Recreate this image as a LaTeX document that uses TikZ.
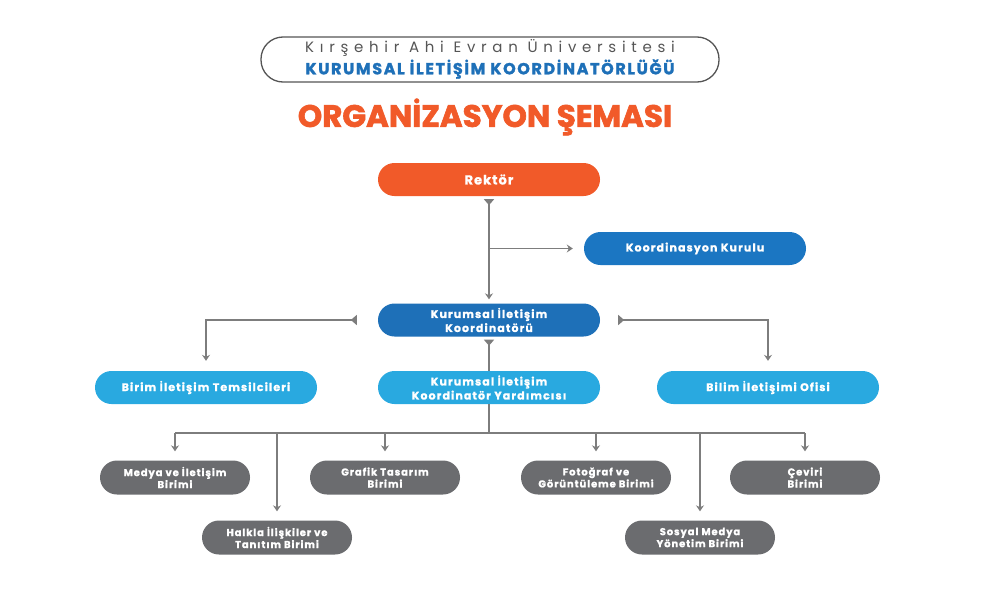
\documentclass[tikz,border=0pt]{standalone}
\usepackage{fontspec}
\setmainfont{Poppins}
\usetikzlibrary{arrows.meta,calc}
\definecolor{orgorange}{HTML}{F15A29}
\definecolor{darkblue}{HTML}{1E70B8}
\definecolor{midblue}{HTML}{1B76C2}
\definecolor{lightblue}{HTML}{29A9E0}
\definecolor{unitgray}{HTML}{6B6C6F}
\definecolor{linegray}{HTML}{7D7D7D}
\definecolor{headgray}{HTML}{555555}
\newcommand{\pillfont}{\bfseries\fontsize{11}{14}\selectfont\addfontfeatures{LetterSpace=10,FakeBold=1}}
\newcommand{\unitfont}{\bfseries\fontsize{10}{12}\selectfont\addfontfeatures{LetterSpace=9,FakeBold=1}}
\tikzset{
  pill/.style={rectangle, rounded corners=16.5pt, minimum width=222pt, minimum height=33pt,
    text=white, font=\pillfont, align=center, inner sep=0pt},
  smallpill/.style={rectangle, rounded corners=17pt, minimum width=150pt, minimum height=34pt,
    fill=unitgray, text=white, font=\unitfont, align=center, inner sep=0pt},
  conn/.style={draw=linegray, line width=1.3pt},
  endtip/.style={-{Stealth[length=6pt,width=8pt,inset=2pt]}},
  starttip/.style={{Triangle[reversed,length=6pt,width=10pt]}-},
  bothtip/.style={{Triangle[reversed,length=6pt,width=10pt]}-{Stealth[length=6pt,width=8pt,inset=2pt]}}
}
\begin{document}
\begin{tikzpicture}[x=1pt,y=-1pt]
\useasboundingbox (0,0) rectangle (1000,605);
\fill[white] (0,0) rectangle (1000,605);

% header
\node[draw=headgray, line width=1.3pt, rounded corners=22pt, minimum width=458pt, minimum height=45pt] (hdr) at (490,59.5) {};
\node[text=headgray, font=\fontsize{15}{17}\selectfont\addfontfeatures{LetterSpace=38}] (uni) at (490,48) {Kırşehir Ahi Evran Üniversitesi};
\node[text=darkblue, font=\bfseries\fontsize{16}{18}\selectfont\addfontfeatures{LetterSpace=10,FakeBold=1.5}] (kik) at (490,69) {KURUMSAL İLETİŞİM KOORDİNATÖRLÜĞÜ};
\node[text=orgorange, font=\bfseries\fontsize{31}{34}\selectfont\addfontfeatures{FakeBold=2}] (title) at (485,117) {ORGANİZASYON ŞEMASI};

% main nodes
\node[pill, fill=orgorange, font=\bfseries\fontsize{13}{15}\selectfont\addfontfeatures{LetterSpace=8,FakeBold=1}] (rek) at (489,179.5) {Rektör};
\node[pill, fill=midblue] (kk) at (695,248.5) {Koordinasyon Kurulu};
\node[pill, fill=darkblue] (kic) at (489,320) {Kurumsal İletişim\\Koordinatörü};
\node[pill, fill=lightblue] (bit) at (206,387.5) {Birim İletişim Temsilcileri};
\node[pill, fill=lightblue] (kiy) at (489,387.5) {Kurumsal İletişim\\Koordinatör Yardımcısı};
\node[pill, fill=lightblue] (bio) at (768,387.5) {Bilim İletişimi Ofisi};

% units
\node[smallpill] (med) at (175,477.5) {Medya ve İletişim\\Birimi};
\node[smallpill] (hal) at (277,537.5) {Halkla İlişkiler ve\\Tanıtım Birimi};
\node[smallpill] (gra) at (385,477.5) {Grafik Tasarım\\Birimi};
\node[smallpill] (fot) at (596,477.5) {Fotoğraf ve\\Görüntüleme Birimi};
\node[smallpill] (sos) at (700,537.5) {Sosyal Medya\\Yönetim Birimi};
\node[smallpill] (cev) at (805,477.5) {Çeviri\\Birimi};

% connectors
\draw[conn, bothtip, shorten <=3pt, shorten >=4pt] (rek.south) -- (kic.north);
\coordinate (br) at (kk.west -| rek.south);
\draw[conn, endtip, shorten >=11pt] (br) -- (kk.west);
\draw[conn, bothtip, shorten <=21pt, shorten >=10pt] (kic.west) -| (bit.north);
\draw[conn, bothtip, shorten <=18pt, shorten >=10pt] (kic.east) -| (bio.north);
\draw[conn, starttip, shorten <=3pt] (kic.south) -- (kiy.north);

\coordinate (hub) at (489,433);
\draw[conn] (kiy.south) -- (hub);
\draw[conn] (hub -| med.north) -- (hub -| cev.north);
\foreach \n in {med,hal,gra,fot,sos,cev}{
  \draw[conn, endtip, shorten >=9pt] (hub -| \n.north) -- (\n.north);
}
\end{tikzpicture}
\end{document}
